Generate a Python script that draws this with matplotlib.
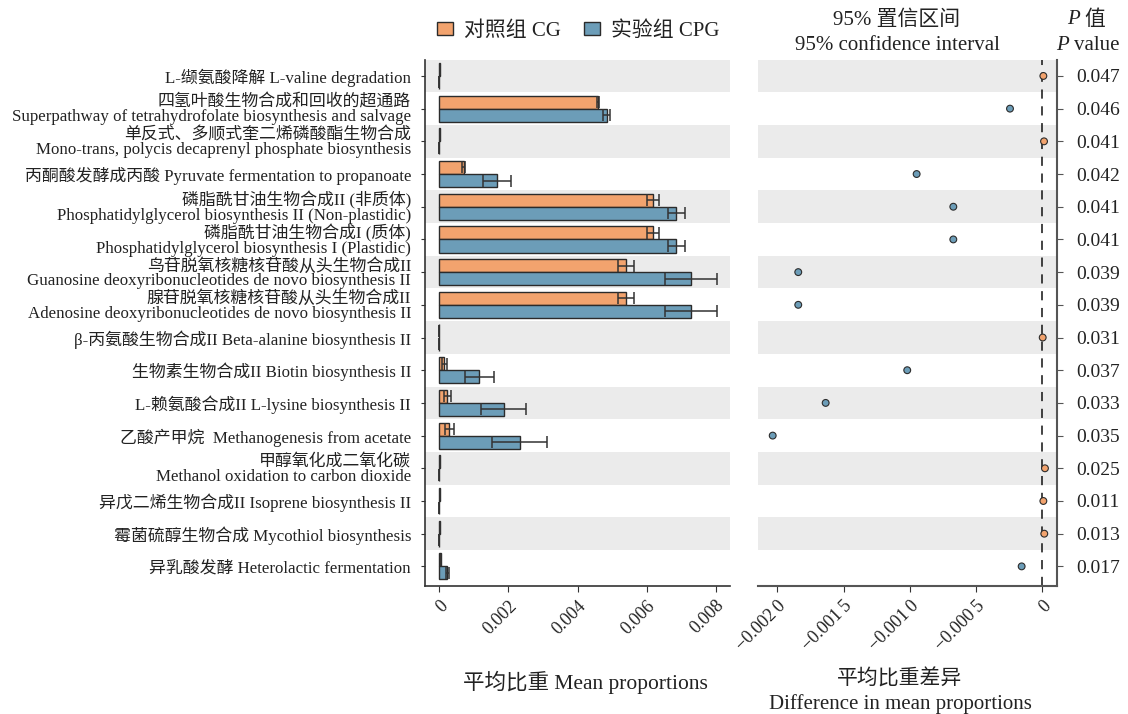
import matplotlib
matplotlib.use("Agg")
import matplotlib.pyplot as plt
import numpy as np
from matplotlib.patches import Patch

plt.rcParams["font.family"] = ["Liberation Serif", "Noto Sans CJK SC", "DejaVu Sans"]
plt.rcParams["axes.unicode_minus"] = True

# ---- data -------------------------------------------------------------
pathways = [
    "L-缬氨酸降解 L-valine degradation",
    "四氢叶酸生物合成和回收的超通路\nSuperpathway of tetrahydrofolate biosynthesis and salvage",
    "单反式、多顺式奎二烯磷酸酯生物合成\nMono-trans, polycis decaprenyl phosphate biosynthesis",
    "丙酮酸发酵成丙酸 Pyruvate fermentation to propanoate",
    "磷脂酰甘油生物合成II (非质体)\nPhosphatidylglycerol biosynthesis II (Non-plastidic)",
    "磷脂酰甘油生物合成I (质体)\nPhosphatidylglycerol biosynthesis I (Plastidic)",
    "鸟苷脱氧核糖核苷酸从头生物合成II\nGuanosine deoxyribonucleotides de novo biosynthesis II",
    "腺苷脱氧核糖核苷酸从头生物合成II\nAdenosine deoxyribonucleotides de novo biosynthesis II",
    "β-丙氨酸生物合成II Beta-alanine biosynthesis II",
    "生物素生物合成II Biotin biosynthesis II",
    "L-赖氨酸合成II L-lysine biosynthesis II",
    "乙酸产甲烷  Methanogenesis from acetate",
    "甲醇氧化成二氧化碳\nMethanol oxidation to carbon dioxide",
    "异戊二烯生物合成II Isoprene biosynthesis II",
    "霉菌硫醇生物合成 Mycothiol biosynthesis",
    "异乳酸发酵 Heterolactic fermentation",
]

cg_mean = [0.00001, 0.00460, 0.000015, 0.00070, 0.00618, 0.00618, 0.00541, 0.00541,
           0.000005, 0.00014, 0.00023, 0.00029, 0.00002, 0.000008, 0.000015, 0.00005]
cg_err = [0, 0.00003, 0, 0.00005, 0.00018, 0.00018, 0.00023, 0.00023,
          0, 0.00007, 0.00010, 0.000125, 0, 0, 0, 0.00001]
cpg_mean = [0.000002, 0.00485, 0.000002, 0.00166, 0.00686, 0.00686, 0.00727, 0.00727,
            0.000002, 0.00116, 0.00187, 0.00232, 0.000002, 0.000001, 0.000001, 0.00023]
cpg_err = [0, 0.00010, 0, 0.00040, 0.00025, 0.00025, 0.00075, 0.00075,
           0, 0.00042, 0.00065, 0.00080, 0, 0, 0, 0.00005]
mean_diff = [0.000008, -0.000244, 0.000013, -0.000949, -0.000672, -0.000672, -0.001843, -0.001843,
             0.000003, -0.00102, -0.001636, -0.002036, 0.00002, 0.000008, 0.000015, -0.000156]
p_values = ["0.047", "0.046", "0.041", "0.042", "0.041", "0.041", "0.039", "0.039",
            "0.031", "0.037", "0.033", "0.035", "0.025", "0.011", "0.013", "0.017"]

left_ticks = [0, 0.002, 0.004, 0.006, 0.008]
left_ticklabels = ["0", "0.002", "0.004", "0.006", "0.008"]
right_ticks = [-0.002, -0.0015, -0.001, -0.0005, 0]
right_ticklabels = ["\u22120.002\u20090", "\u22120.001\u20095", "\u22120.001\u20090", "\u22120.000\u20095", "0"]

group_names = ["对照组 CG", "实验组 CPG"]

# ---- style ------------------------------------------------------------
c_cg = "#F2A36E"
c_cpg = "#6C9DB8"
edge = "#2b2b2b"
band = "#ebebeb"
text_c = "#222222"

W, H = 1128, 714
fig = plt.figure(figsize=(W / 100, H / 100), dpi=100)

def frac_box(x0, y0, x1, y1):
    return [x0 / W, 1 - y1 / H, (x1 - x0) / W, (y1 - y0) / H]

ax1 = fig.add_axes(frac_box(425, 59.6, 730, 586))
ax2 = fig.add_axes(frac_box(758, 59.6, 1057, 586))

n = len(pathways)
rows = np.arange(n)
bh = 0.4

for ax in (ax1, ax2):
    for i in range(0, n, 2):
        ax.axhspan(i - 0.5, i + 0.5, color=band, zorder=0, lw=0)
    ax.set_ylim(n - 0.4, -0.5)

# ---- left: mean proportions ------------------------------------------
ax1.barh(rows - bh / 2, cg_mean, height=bh, color=c_cg, edgecolor=edge, lw=1.0, zorder=2)
ax1.barh(rows + bh / 2, cpg_mean, height=bh, color=c_cpg, edgecolor=edge, lw=1.0, zorder=2)
ax1.errorbar(cg_mean, rows - bh / 2, xerr=cg_err, fmt="none", ecolor="#333333",
             elinewidth=1.1, capsize=4.5, capthick=1.1, zorder=3)
ax1.errorbar(cpg_mean, rows + bh / 2, xerr=cpg_err, fmt="none", ecolor="#333333",
             elinewidth=1.1, capsize=4.5, capthick=1.1, zorder=3)

ax1.set_xlim(-0.000414, 0.00841)
ax1.set_xticks(left_ticks)
ax1.set_xticklabels(left_ticklabels, rotation=45, ha="right", va="top",
                    rotation_mode="anchor", fontsize=13, color=text_c)
ax1.set_yticks(rows)
ax1.set_yticklabels(pathways, fontsize=12.2, color=text_c, linespacing=0.88)
for s in ("top", "right"):
    ax1.spines[s].set_visible(False)
for s in ("left", "bottom"):
    ax1.spines[s].set_color("#333333")
    ax1.spines[s].set_linewidth(1.2)
ax1.tick_params(axis="y", length=3, pad=7, color="#333333")
ax1.tick_params(axis="x", length=4, pad=4, color="#333333")

# ---- right: difference in means --------------------------------------
ax2.axvline(0, color="#111111", lw=1.1, ls=(0, (6, 5)), zorder=1)
pt_colors = [c_cg if d > 0 else c_cpg for d in mean_diff]
ax2.scatter(mean_diff, rows, s=24, c=pt_colors, edgecolors=edge, linewidths=0.8, zorder=3)
ax2.set_xlim(-0.002147, 0.000111)
ax2.set_xticks(right_ticks)
ax2.set_xticklabels(right_ticklabels, rotation=45, ha="right", va="top",
                    rotation_mode="anchor", fontsize=13, color=text_c)
ax2.yaxis.tick_right()
ax2.set_yticks(rows)
ax2.set_yticklabels(p_values, fontsize=14, color=text_c)
for s in ("top", "left"):
    ax2.spines[s].set_visible(False)
for s in ("right", "bottom"):
    ax2.spines[s].set_color("#555555")
    ax2.spines[s].set_linewidth(1.5)
ax2.tick_params(axis="y", length=4, pad=10, color="#555555")
ax2.tick_params(axis="x", length=4, pad=4, color="#333333")

# ---- legend and titles ------------------------------------------------
handles = [Patch(facecolor=c_cg, edgecolor=edge, lw=1.0),
           Patch(facecolor=c_cpg, edgecolor=edge, lw=1.0)]
fig.legend(handles, group_names, loc="center", bbox_to_anchor=(578 / W, 1 - 31 / H),
           ncol=2, frameon=False, fontsize=15, handlelength=0.8, handleheight=0.6,
           handletextpad=0.5, columnspacing=1.1, labelcolor=text_c)

fig.text(897 / W, 1 - 20 / H, "95% 置信区间", ha="center", va="center", fontsize=15, color=text_c)
fig.text(897 / W, 1 - 46 / H, "95% confidence interval", ha="center", va="center", fontsize=15, color=text_c)
fig.text(1080 / W, 1 - 20 / H, "P", ha="right", va="center", fontsize=15, style="italic", color=text_c)
fig.text(1084 / W, 1 - 20 / H, "值", ha="left", va="center", fontsize=15, color=text_c)
fig.text(1069 / W, 1 - 46 / H, "P", ha="right", va="center", fontsize=15, style="italic", color=text_c)
fig.text(1074 / W, 1 - 46 / H, "value", ha="left", va="center", fontsize=15, color=text_c)

fig.text(585 / W, 1 - 682 / H, "平均比重 Mean proportions", ha="center", va="center", fontsize=15.5, color=text_c)
fig.text(900 / W, 1 - 680 / H, "平均比重差异", ha="center", va="center", fontsize=15, color=text_c)
fig.text(900 / W, 1 - 704 / H, "Difference in mean proportions", ha="center", va="center", fontsize=15, color=text_c)

fig.savefig("out.png", dpi=100, facecolor="white")
